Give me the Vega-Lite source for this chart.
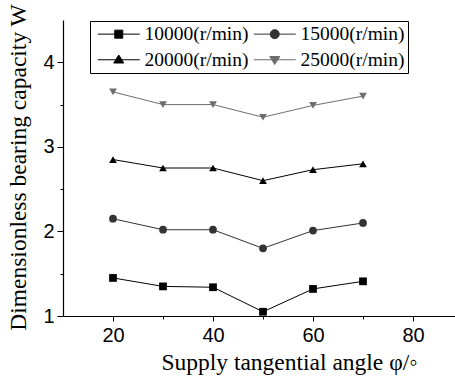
{
  "$schema": "https://vega.github.io/schema/vega-lite/v6.json",
  "width": 392,
  "height": 296,
  "autosize": "none",
  "padding": {"left": 63, "top": 20, "right": 0, "bottom": 62},
  "config": {
    "view": {"stroke": null},
    "axis": {
      "grid": false,
      "domainColor": "#000000",
      "domainWidth": 1.2,
      "tickColor": "#000000",
      "tickWidth": 1,
      "labelColor": "#000000",
      "labelFont": "Liberation Sans",
      "labelFontSize": 20,
      "titleColor": "#000000",
      "titleFont": "Liberation Serif",
      "titleFontSize": 23.5,
      "titleFontWeight": "normal"
    },
    "legend": {
      "orient": "none", "legendX": 27, "legendY": 1, "columns": 2, "direction": "horizontal", "title": null,
      "strokeColor": "#000000", "padding": 3, "symbolSize": 100, "symbolStrokeWidth": 1, "symbolOpacity": 1,
      "labelFont": "Liberation Serif", "labelFontSize": 19.5, "labelColor": "#000000", "labelOffset": 32,
      "rowPadding": 5, "columnPadding": 0, "labelLimit": 200
    }
  },
  "data": {
    "values": [
      {"phi": 20, "W": 1.45, "speed": "10000(r/min)"},
      {"phi": 30, "W": 1.35, "speed": "10000(r/min)"},
      {"phi": 40, "W": 1.34, "speed": "10000(r/min)"},
      {"phi": 50, "W": 1.05, "speed": "10000(r/min)"},
      {"phi": 60, "W": 1.32, "speed": "10000(r/min)"},
      {"phi": 70, "W": 1.41, "speed": "10000(r/min)"},
      {"phi": 20, "W": 2.15, "speed": "15000(r/min)"},
      {"phi": 30, "W": 2.02, "speed": "15000(r/min)"},
      {"phi": 40, "W": 2.02, "speed": "15000(r/min)"},
      {"phi": 50, "W": 1.80, "speed": "15000(r/min)"},
      {"phi": 60, "W": 2.01, "speed": "15000(r/min)"},
      {"phi": 70, "W": 2.10, "speed": "15000(r/min)"},
      {"phi": 20, "W": 2.85, "speed": "20000(r/min)"},
      {"phi": 30, "W": 2.75, "speed": "20000(r/min)"},
      {"phi": 40, "W": 2.75, "speed": "20000(r/min)"},
      {"phi": 50, "W": 2.60, "speed": "20000(r/min)"},
      {"phi": 60, "W": 2.73, "speed": "20000(r/min)"},
      {"phi": 70, "W": 2.80, "speed": "20000(r/min)"},
      {"phi": 20, "W": 3.65, "speed": "25000(r/min)"},
      {"phi": 30, "W": 3.50, "speed": "25000(r/min)"},
      {"phi": 40, "W": 3.50, "speed": "25000(r/min)"},
      {"phi": 50, "W": 3.35, "speed": "25000(r/min)"},
      {"phi": 60, "W": 3.49, "speed": "25000(r/min)"},
      {"phi": 70, "W": 3.60, "speed": "25000(r/min)"}
    ]
  },
  "resolve": {
    "axis": {"x": "independent", "y": "independent"},
    "scale": {"shape": "independent"},
    "legend": {"color": "independent", "shape": "independent", "stroke": "independent"}
  },
  "layer": [
    {
      "mark": {"type": "line", "strokeWidth": 1},
      "encoding": {
        "x": {
          "field": "phi", "type": "quantitative",
          "scale": {"domain": [10, 88.4], "nice": false, "zero": false},
          "axis": {"orient": "bottom", "values": [30, 50, 70], "labels": false, "domain": false, "tickSize": 3, "title": null}
        },
        "y": {
          "field": "W", "type": "quantitative",
          "scale": {"domain": [1, 4.5], "nice": false, "zero": false},
          "axis": {"orient": "left", "values": [1.5, 2.5, 3.5], "labels": false, "domain": false, "tickSize": 3, "title": null}
        },
        "color": {
          "field": "speed", "type": "nominal",
          "scale": {"domain": ["10000(r/min)", "15000(r/min)", "20000(r/min)", "25000(r/min)"], "range": ["#000000", "#333333", "#000000", "#6e6e6e"]},
          "legend": null
        }
      }
    },
    {
      "mark": {"type": "point", "filled": true, "opacity": 1, "size": 60},
      "encoding": {
        "x": {
          "field": "phi", "type": "quantitative",
          "axis": {"orient": "bottom", "values": [20, 40, 60, 80], "tickSize": 5, "labelPadding": 4, "title": "Supply tangential angle  φ/◦", "titleX": 226, "titleY": 34, "titleBaseline": "top", "titleAlign": "center"}
        },
        "y": {
          "field": "W", "type": "quantitative",
          "axis": {"orient": "left", "values": [1, 2, 3, 4], "tickSize": 6, "labelPadding": 3, "title": "Dimensionless bearing capacity W", "titleY": 147, "titleX": -33, "titleAlign": "center"}
        },
        "color": {"field": "speed", "type": "nominal", "legend": null},
        "shape": {
          "field": "speed", "type": "nominal",
          "scale": {"domain": ["10000(r/min)", "15000(r/min)", "20000(r/min)", "25000(r/min)"], "range": ["square", "circle", "triangle-up", "triangle-down"]},
          "legend": null
        }
      }
    },
    {
      "mark": {"type": "point", "filled": true, "opacity": 0, "size": 60},
      "encoding": {
        "x": {"field": "phi", "type": "quantitative", "axis": null},
        "y": {"field": "W", "type": "quantitative", "axis": null},
        "color": {"field": "speed", "type": "nominal", "legend": {}},
        "stroke": {
          "field": "speed", "type": "nominal",
          "scale": {"domain": ["10000(r/min)", "15000(r/min)", "20000(r/min)", "25000(r/min)"], "range": ["#000000", "#333333", "#000000", "#6e6e6e"]},
          "legend": {}
        },
        "shape": {
          "field": "speed", "type": "nominal",
          "scale": {"domain": ["10000(r/min)", "15000(r/min)", "20000(r/min)", "25000(r/min)"], "range": ["M-1,0H7.4M2.4,-0.8H4V0.8H2.4Z", "M-1,0H7.4M2.3,0A0.9,0.9 0 1,0 4.1,0A0.9,0.9 0 1,0 2.3,0Z", "M-1,0H7.4M3.2,-0.95L4.2,0.65H2.2Z", "M-1,0H7.4M3.2,0.95L4.2,-0.65H2.2Z"]},
          "legend": {}
        }
      }
    }
  ]
}
